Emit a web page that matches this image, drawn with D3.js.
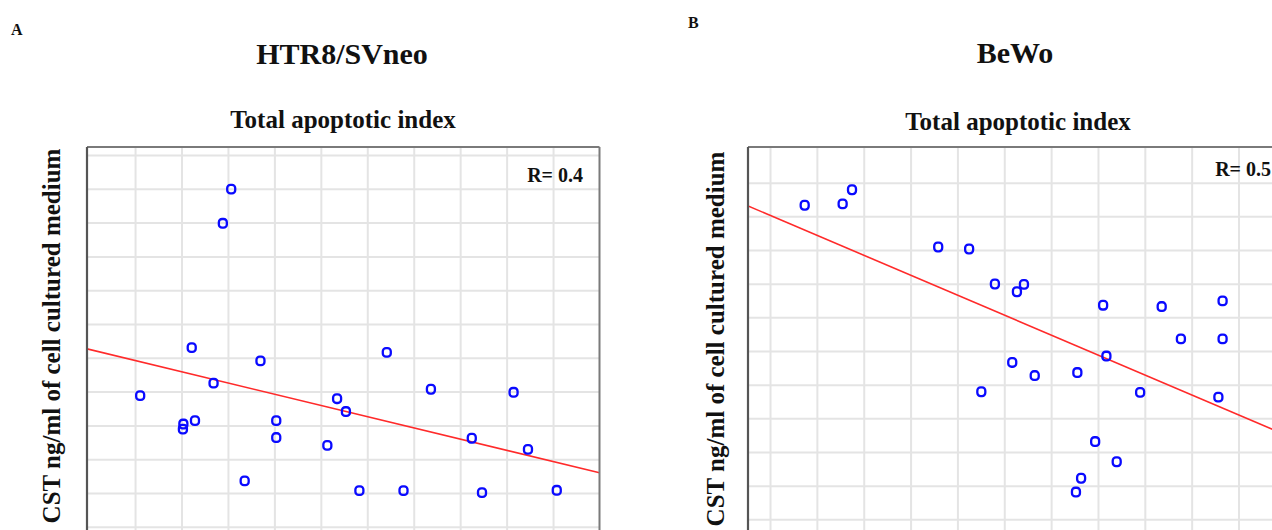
<!DOCTYPE html>
<html>
<head>
<meta charset="utf-8">
<script src="https://cdn.jsdelivr.net/npm/d3@7"></script>
<style>
  html, body { margin: 0; padding: 0; background: #fff; }
  svg { display: block; }
  text { font-family: "Liberation Serif", "Times New Roman", serif; font-weight: bold; fill: #111; }
</style>
</head>
<body>
<svg id="chart" width="1272" height="530"></svg>
<script>
// ---- HTR8/SVneo: total apoptotic index vs CST (values in grid units) ----
const htrApoptosis = [1.11, 2.04, 2.03, 2.29, 2.22, 2.69, 2.89, 3.07, 3.36, 3.70, 4.04, 4.04,
                      5.14, 5.35, 5.54, 5.83, 6.42, 6.78, 7.37, 8.25, 8.47, 9.15, 9.46, 10.08];
const htrCST       = [3.88, 3.04, 2.89, 3.14, 5.30, 4.25, 8.98, 9.99, 1.36, 4.91, 3.14, 2.64,
                      2.41, 3.79, 3.41, 1.07, 5.16, 1.07, 4.07, 2.62, 1.01, 3.98, 2.29, 1.08];
const htrFit = [5.254, -0.3325];   // intercept, slope of the regression line
const htrR = 0.4;
const htrGridX = [1, 2, 3, 4, 5, 6, 7, 8, 9, 10];
const htrGridY = [0, 1, 2, 3, 4, 5, 6, 7, 8, 9, 10, 11];

// ---- BeWo: total apoptotic index vs CST (values in grid units) ----
const bewoApoptosis = [1.74, 2.55, 2.75, 4.59, 5.25, 5.80, 6.42, 6.27, 8.11, 9.36, 10.66, 9.77,
                       10.66, 8.18, 6.17, 6.65, 7.56, 5.51, 8.90, 10.57, 7.94, 8.40, 7.64, 7.53];
const bewoCST       = [9.33, 9.37, 9.79, 8.09, 8.03, 6.99, 6.98, 6.76, 6.36, 6.32, 6.49, 5.36,
                       5.36, 4.85, 4.66, 4.27, 4.36, 3.79, 3.77, 3.63, 2.31, 1.71, 1.22, 0.81];
const bewoFit = [9.624, -0.5928];
const bewoR = 0.5;
const bewoGridX = [1, 2, 3, 4, 5, 6, 7, 8, 9, 10, 11, 12];
const bewoGridY = [-1, 0, 1, 2, 3, 4, 5, 6, 7, 8, 9, 10];

const yTitle = "CST ng/ml of cell cultured medium";
const xTitle = "Total apoptotic index";

const svg = d3.select("#chart");

const panels = [
  {
    id: "htr", letter: "A", cell: "HTR8/SVneo",
    xs: htrApoptosis, ys: htrCST, fit: htrFit, r: htrR,
    gridX: htrGridX, gridY: htrGridY,
    left: 87, right: 599.5, top: 147, bottom: 575,
    xDomain: [-0.035, 11], yDomain: [0, 11], yRange: [526.8, 155],
    letterPos: [11, 35], cellPos: [342, 64], subPos: [343, 128],
    rPos: [583, 181.5], yLabelPos: [60, 336], rightBorder: true
  },
  {
    id: "bewo", letter: "B", cell: "BeWo",
    xs: bewoApoptosis, ys: bewoCST, fit: bewoFit, r: bewoR,
    gridX: bewoGridX, gridY: bewoGridY,
    left: 748, right: 1308.8, top: 147, bottom: 575,
    xDomain: [0.53, 12.5], yDomain: [0, 10], yRange: [519.3, 182.7],
    letterPos: [688, 28], cellPos: [1015, 63], subPos: [1018, 130],
    rPos: [1271, 176], yLabelPos: [724, 339], rightBorder: false
  }
];

panels.forEach(p => {
  const x = d3.scaleLinear().domain(p.xDomain).range([p.left, p.right]);
  const y = d3.scaleLinear().domain(p.yDomain).range(p.yRange);
  const w = p.right - p.left, h = p.bottom - p.top;

  svg.append("clipPath").attr("id", "clip-" + p.id)
    .append("rect").attr("x", p.left).attr("y", p.top).attr("width", w).attr("height", h);

  const plot = svg.append("g").attr("clip-path", `url(#clip-${p.id})`);

  // grid
  const gx = plot.append("g").attr("transform", `translate(0,${p.top})`)
    .call(d3.axisBottom(x).tickValues(p.gridX).tickSize(h).tickFormat(""));
  const gy = plot.append("g").attr("transform", `translate(${p.left},0)`)
    .call(d3.axisRight(y).tickValues(p.gridY).tickSize(w).tickFormat(""));
  [gx, gy].forEach(g => {
    g.select(".domain").remove();
    g.selectAll(".tick line").attr("stroke", "#e4e4e4").attr("stroke-width", 2);
  });

  // regression line
  const x0 = p.xDomain[0], x1 = p.xDomain[1];
  plot.append("line")
    .attr("x1", x(x0)).attr("y1", y(p.fit[0] + p.fit[1] * x0))
    .attr("x2", x(x1)).attr("y2", y(p.fit[0] + p.fit[1] * x1))
    .attr("stroke", "#ff2a2a").attr("stroke-width", 1.6);

  // observations
  plot.selectAll("rect.pt").data(p.xs.map((v, i) => [v, p.ys[i]]))
    .join("rect").attr("class", "pt")
    .attr("x", d => x(d[0]) - 4).attr("y", d => y(d[1]) - 4.3)
    .attr("width", 8).attr("height", 8.6).attr("rx", 3.2).attr("ry", 3.2)
    .attr("fill", "none").attr("stroke", "#0a0aff").attr("stroke-width", 2.3);

  // frame
  svg.append("line").attr("x1", p.left).attr("x2", p.rightBorder ? p.right : 1272)
    .attr("y1", p.top).attr("y2", p.top).attr("stroke", "#7a7a7a").attr("stroke-width", 2);
  svg.append("line").attr("x1", p.left).attr("x2", p.left)
    .attr("y1", p.top).attr("y2", p.bottom).attr("stroke", "#555").attr("stroke-width", 2.2);
  if (p.rightBorder) {
    svg.append("line").attr("x1", p.right).attr("x2", p.right)
      .attr("y1", p.top).attr("y2", p.bottom).attr("stroke", "#7a7a7a").attr("stroke-width", 2);
  }

  // texts
  svg.append("text").attr("x", p.letterPos[0]).attr("y", p.letterPos[1])
    .attr("font-size", 16).text(p.letter);
  svg.append("text").attr("x", p.cellPos[0]).attr("y", p.cellPos[1])
    .attr("text-anchor", "middle").attr("font-size", 30).text(p.cell);
  svg.append("text").attr("x", p.subPos[0]).attr("y", p.subPos[1])
    .attr("text-anchor", "middle").attr("font-size", 25).text(xTitle);
  svg.append("text").attr("x", p.rPos[0]).attr("y", p.rPos[1])
    .attr("text-anchor", "end").attr("font-size", 20).text("R= " + p.r.toFixed(1));
  svg.append("text")
    .attr("transform", `translate(${p.yLabelPos[0]},${p.yLabelPos[1]}) rotate(-90)`)
    .attr("text-anchor", "middle").attr("font-size", 25).text(yTitle);
});
</script>
</body>
</html>
